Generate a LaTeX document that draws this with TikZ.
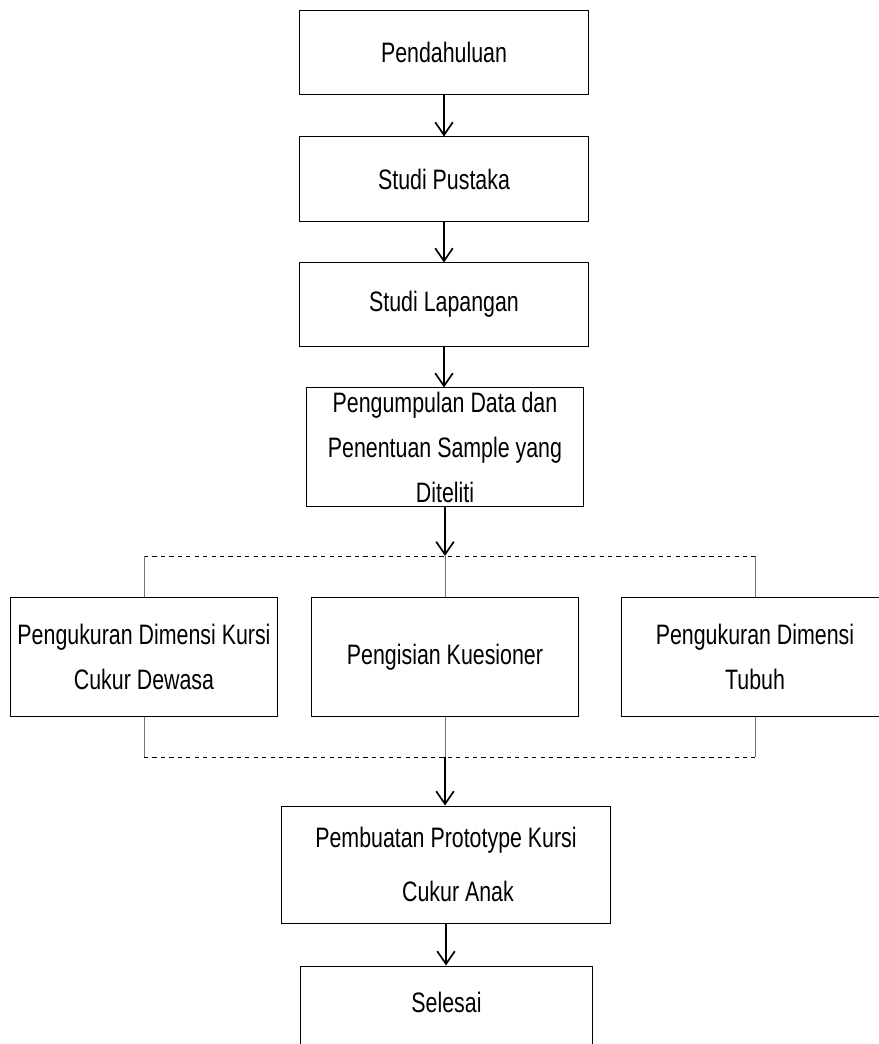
\documentclass[tikz,border=0pt]{standalone}
\usepackage{fontspec}
\setmainfont[FakeStretch=0.76]{Liberation Sans}
\usetikzlibrary{arrows.meta}

\begin{document}
\begin{tikzpicture}[x=0.025cm, y=-0.025cm,
	box/.style={shape=rectangle, draw=black, line width=0.7pt, align=center, font=\fontsize{20}{32}\selectfont, inner sep=0pt},
	flow/.style={-{Straight Barb[length=0.32cm, width=0.44cm, line width=1.2pt]}, line width=1.3pt},
	link/.style={draw=black!55, line width=0.7pt}]

	\clip (0, 0) rectangle (879, 1044);
	\useasboundingbox (0, 0) rectangle (879, 1044);

	\node[box, minimum width=7.225cm, minimum height=2.075cm] (pendahuluan) at (444, 52.5)   {Pendahuluan};
	\node[box, minimum width=7.225cm, minimum height=2.1cm]   (pustaka)     at (444, 179)    {Studi Pustaka};
	\node[box, minimum width=7.225cm, minimum height=2.075cm] (lapangan)    at (444, 304.5)  {Studi Lapangan};
	\node[box, minimum width=6.9cm, minimum height=2.95cm]    (data)        at (445, 447)    {Pengumpulan Data dan\\Penentuan Sample yang\\Diteliti};
	\node[box, minimum width=6.65cm, minimum height=2.95cm]   (kursi)       at (144, 657)    {Pengukuran Dimensi Kursi\\Cukur Dewasa};
	\node[box, minimum width=6.65cm, minimum height=2.95cm]   (kuesioner)   at (445, 657)    {Pengisian Kuesioner};
	\node[box, minimum width=6.65cm, minimum height=2.95cm]   (tubuh)       at (755, 657)    {Pengukuran Dimensi\\Tubuh};
	\node[box, minimum width=8.2cm, minimum height=2.925cm]   (prototype)   at (446, 864.5)  {Pembuatan Prototype Kursi\\[6pt]\hspace*{0.6cm}Cukur Anak};
	\node[box, minimum width=7.275cm, minimum height=2.95cm]  (selesai)     at (446.5, 1025) {Selesai\\\mbox{}};

	\coordinate (atas kiri)    at (144, 556);
	\coordinate (atas tengah)  at (445, 556);
	\coordinate (atas kanan)   at (755, 556);
	\coordinate (bawah kiri)   at (144, 757);
	\coordinate (bawah tengah) at (445, 757);
	\coordinate (bawah kanan)  at (755, 757);

	\path[flow] (pendahuluan) edge (pustaka);
	\path[flow] (pustaka) edge (lapangan);
	\path[flow] (lapangan.south) edge (lapangan.south |- data.north);
	\path[flow] (data) edge (atas tengah);

	\draw[dashed, line width=0.7pt] (atas kiri) -- (atas kanan);
	\draw[link] (atas kiri) -- (kursi.north);
	\draw[link] (atas tengah) -- (kuesioner.north);
	\draw[link] (atas kanan) -- (tubuh.north);

	\draw[link] (kursi.south) -- (bawah kiri);
	\draw[link] (kuesioner.south) -- (bawah tengah);
	\draw[link] (tubuh.south) -- (bawah kanan);
	\draw[dashed, line width=0.7pt] (bawah kiri) -- (bawah kanan);

	\path[flow] (bawah tengah) edge (bawah tengah |- prototype.north);
	\path[flow] (prototype) edge (prototype |- selesai.north);

\end{tikzpicture}
\end{document}
